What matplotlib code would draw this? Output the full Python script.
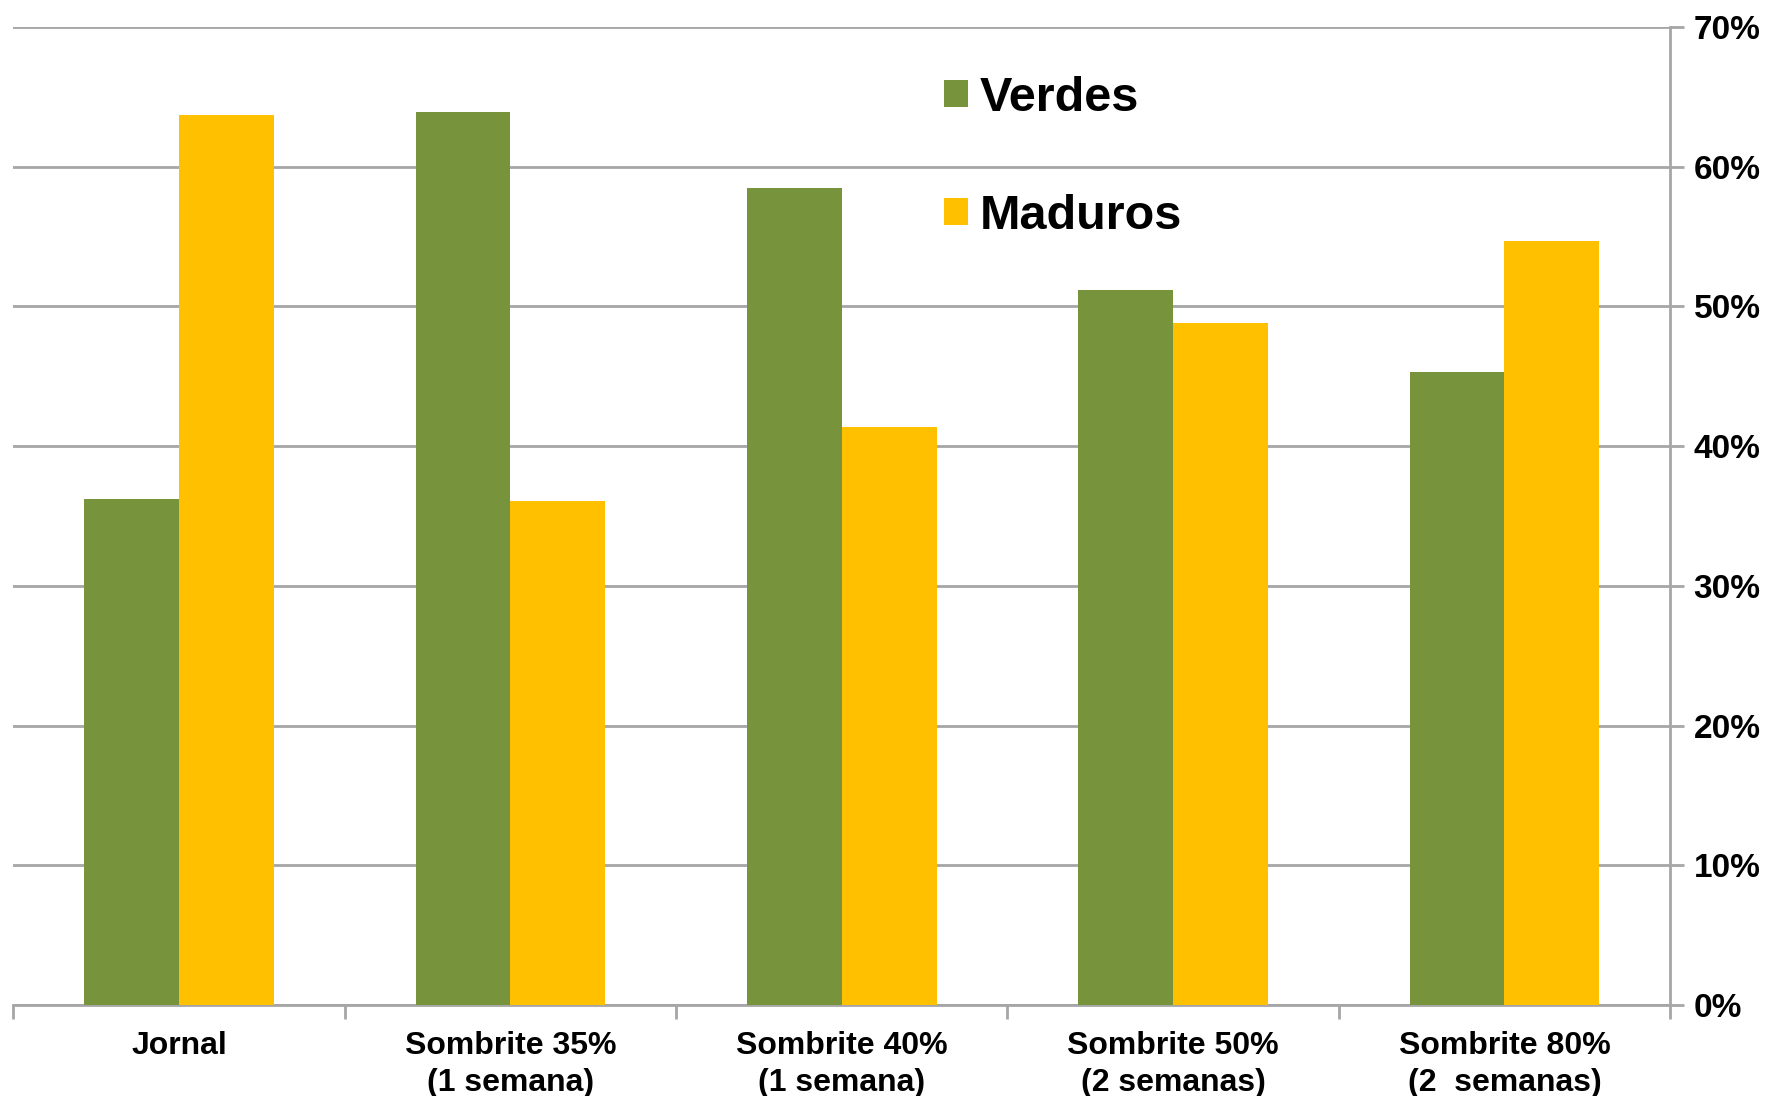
import numpy as np
import matplotlib
matplotlib.use("Agg")
import matplotlib.pyplot as plt
from matplotlib.ticker import PercentFormatter, FixedLocator

plt.rcParams['font.family'] = ['Liberation Sans', 'DejaVu Sans']
plt.rcParams['font.weight'] = 'bold'

# data
categories = ['Jornal', 'Sombrite 35%\n(1 semana)', 'Sombrite 40%\n(1 semana)',
              'Sombrite 50%\n(2 semanas)', 'Sombrite 80%\n(2  semanas)']
verdes = [0.362, 0.639, 0.585, 0.512, 0.453]
maduros = [0.637, 0.361, 0.414, 0.488, 0.547]

green = '#77933C'
yellow = '#FFC000'
grid_grey = '#A6A6A6'

fig = plt.figure(figsize=(17.68, 10.96), dpi=100)
ax = fig.add_axes([0.0076, 0.083, 0.9370, 0.8924])

x = np.arange(len(categories))
w = 0.286
ax.bar(x - w / 2, verdes, w, color=green, label='Verdes', zorder=3)
ax.bar(x + w / 2, maduros, w, color=yellow, label='Maduros', zorder=3)

ax.set_xlim(-0.5, len(categories) - 0.5)
ax.set_ylim(0, 0.7)

# y axis on the right
ax.yaxis.tick_right()
ax.set_yticks(np.arange(0, 0.71, 0.1))
ax.yaxis.set_major_formatter(PercentFormatter(1.0, decimals=0))
ax.tick_params(axis='y', which='major', direction='out', length=10, width=2,
               color=grid_grey, pad=7, labelsize=24)
ax.grid(axis='y', color=grid_grey, linewidth=2, zorder=0)

# x axis: labels at centres, tick marks between categories
ax.set_xticks(x)
ax.set_xticklabels(categories, fontsize=23, fontweight='bold', linespacing=1.3)
ax.tick_params(axis='x', which='major', length=0, pad=19)
ax.xaxis.set_minor_locator(FixedLocator(np.arange(-0.5, len(categories), 1.0)))
ax.tick_params(axis='x', which='minor', direction='out', length=10, width=2,
               color=grid_grey)

for side in ['top', 'left']:
    ax.spines[side].set_visible(False)
for side in ['bottom', 'right']:
    ax.spines[side].set_color(grid_grey)
    ax.spines[side].set_linewidth(2)

leg = ax.legend(loc='upper left', bbox_to_anchor=(0.520, 0.953),
                bbox_transform=fig.transFigure, frameon=False,
                prop={'size': 35, 'weight': 'bold'},
                handlelength=0.5, handleheight=0.5, handletextpad=0.25,
                labelspacing=1.5, borderpad=0)

fig.savefig('out.png', dpi=100, facecolor='white')
